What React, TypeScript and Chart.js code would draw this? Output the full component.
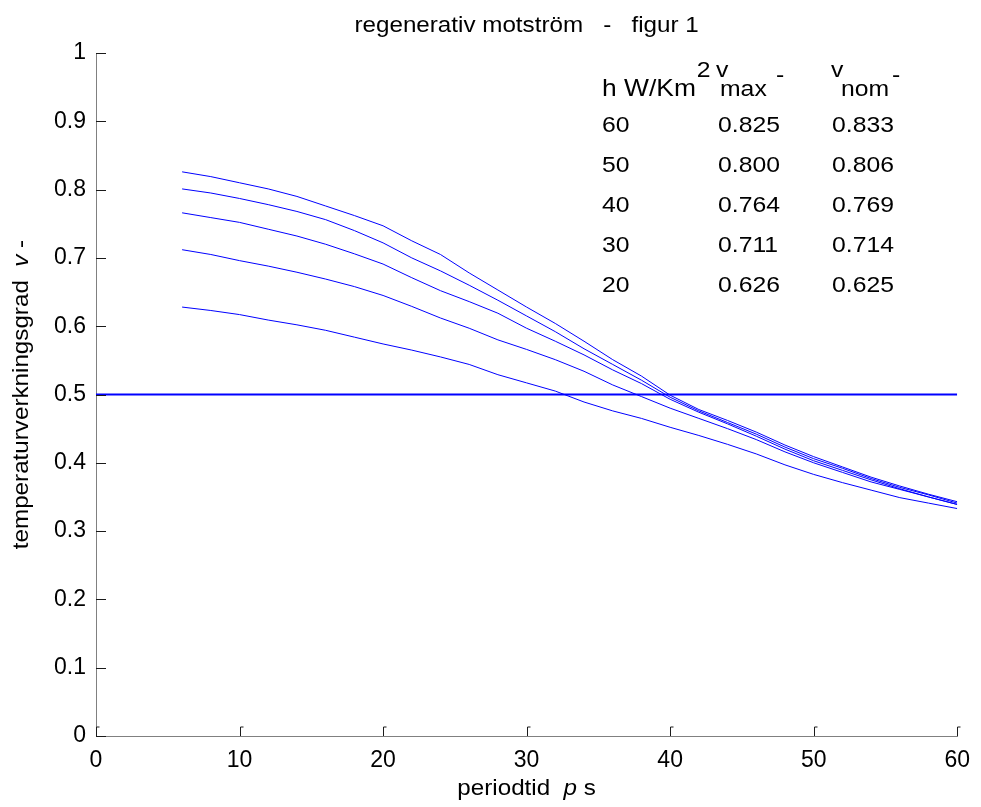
import React, { useEffect, useRef } from "react";
import { Chart, registerables } from "chart.js";

Chart.register(...registerables);

const FONT = '"Liberation Sans", Arial, Helvetica, sans-serif';

// ---- data ----
const periodX = [6, 8, 10, 12, 14, 16, 18, 20, 22, 24, 26, 28, 30, 32, 34, 36, 38, 40, 42, 44, 46, 48, 50, 52, 54, 56, 58, 60];
const h60 = [0.826, 0.819, 0.810, 0.801, 0.790, 0.776, 0.762, 0.747, 0.725, 0.705, 0.678, 0.653, 0.628, 0.604, 0.578, 0.551, 0.527, 0.499, 0.478, 0.462, 0.445, 0.426, 0.409, 0.394, 0.379, 0.366, 0.354, 0.343];
const h50 = [0.801, 0.795, 0.787, 0.778, 0.768, 0.756, 0.740, 0.722, 0.700, 0.681, 0.660, 0.638, 0.615, 0.592, 0.567, 0.544, 0.521, 0.496, 0.476, 0.459, 0.442, 0.423, 0.406, 0.392, 0.377, 0.364, 0.353, 0.341];
const h40 = [0.766, 0.759, 0.752, 0.742, 0.732, 0.720, 0.706, 0.691, 0.671, 0.652, 0.636, 0.619, 0.597, 0.578, 0.558, 0.536, 0.516, 0.493, 0.474, 0.457, 0.439, 0.420, 0.403, 0.389, 0.375, 0.362, 0.350, 0.339];
const h30 = [0.712, 0.705, 0.696, 0.688, 0.679, 0.669, 0.658, 0.645, 0.629, 0.612, 0.597, 0.580, 0.566, 0.551, 0.534, 0.514, 0.497, 0.480, 0.465, 0.450, 0.434, 0.416, 0.400, 0.386, 0.372, 0.361, 0.350, 0.339];
const h20 = [0.628, 0.623, 0.617, 0.609, 0.602, 0.594, 0.584, 0.574, 0.565, 0.555, 0.544, 0.529, 0.517, 0.505, 0.489, 0.476, 0.465, 0.452, 0.440, 0.427, 0.413, 0.397, 0.383, 0.371, 0.360, 0.349, 0.341, 0.333];
const seriesList = [h60, h50, h40, h30, h20];

const refLineX = [0, 60];
const refLineY = [0.5, 0.5];

const xTicks = [0, 10, 20, 30, 40, 50, 60];
const xTickLabels = ["0", "10", "20", "30", "40", "50", "60"];
const yTicks = [0, 0.1, 0.2, 0.3, 0.4, 0.5, 0.6, 0.7, 0.8, 0.9, 1];
const yTickLabels = ["0", "0.1", "0.2", "0.3", "0.4", "0.5", "0.6", "0.7", "0.8", "0.9", "1"];

const hLabels = ["60", "50", "40", "30", "20"];
const vmaxLabels = ["0.825", "0.800", "0.764", "0.711", "0.626"];
const vnomLabels = ["0.833", "0.806", "0.769", "0.714", "0.625"];

const titleText = "regenerativ motström   -   figur 1";

// ---- text helpers ----
const SX = 1.1;
const FS = 22;

function seg(ctx: CanvasRenderingContext2D, text: string, x: number, y: number, italic = false, size = FS) {
  ctx.save();
  ctx.font = `${italic ? "italic " : ""}${size}px ${FONT}`;
  const w = ctx.measureText(text).width * SX;
  ctx.translate(x, y);
  ctx.scale(SX, 1);
  ctx.textAlign = "left";
  ctx.textBaseline = "alphabetic";
  ctx.fillStyle = "#000";
  ctx.fillText(text, 0, 0);
  ctx.restore();
  return w;
}
function measure(ctx: CanvasRenderingContext2D, text: string, italic = false, size = FS) {
  ctx.save();
  ctx.font = `${italic ? "italic " : ""}${size}px ${FONT}`;
  const w = ctx.measureText(text).width * SX;
  ctx.restore();
  return w;
}

const decorPlugin = {
  id: "decor",
  afterDraw(chart: any) {
    const ctx: CanvasRenderingContext2D = chart.ctx;
    const xs = chart.scales.x;
    const ys = chart.scales.y;
    const area = chart.chartArea;

    // inward tick marks
    ctx.save();
    ctx.strokeStyle = "#1a1a1a";
    ctx.lineWidth = 1;
    ctx.beginPath();
    xTicks.forEach((v) => {
      const px = Math.round(xs.getPixelForValue(v)) + 0.5;
      ctx.moveTo(px, area.bottom);
      ctx.lineTo(px, area.bottom - 9);
      ctx.lineTo(px + 3, area.bottom - 9);
    });
    yTicks.forEach((v) => {
      const py = Math.round(ys.getPixelForValue(v)) + 0.5;
      ctx.moveTo(area.left, py);
      ctx.lineTo(area.left + 10, py);
    });
    ctx.stroke();
    ctx.restore();

    // title
    const tw = measure(ctx, titleText);
    const tcx = (area.left + area.right) / 2;
    seg(ctx, titleText, tcx - tw / 2, 32);

    // x axis title
    {
      const parts: [string, boolean][] = [["periodtid  ", false], ["p", true], [" s", false]];
      const total = parts.reduce((s, p) => s + measure(ctx, p[0], p[1]), 0);
      let x = tcx - total / 2;
      parts.forEach((p) => {
        x += seg(ctx, p[0], x, 795, p[1]);
      });
    }

    // y axis title (rotated)
    {
      const parts: [string, boolean][] = [["temperaturverkningsgrad  ", false], ["v", true], [" -", false]];
      const total = parts.reduce((s, p) => s + measure(ctx, p[0], p[1]), 0);
      ctx.save();
      ctx.translate(28, (area.top + area.bottom) / 2);
      ctx.rotate(-Math.PI / 2);
      let x = -total / 2;
      parts.forEach((p) => {
        x += seg(ctx, p[0], x, 0, p[1]);
      });
      ctx.restore();
    }

    // table
    const TS = 22.5;
    const c1 = 602;
    const c2 = 718;
    const c3 = 832;
    const hb = 96;
    const raised = 77;
    let x = c1;
    x += seg(ctx, "h W/Km", x, hb, false, 24);
    seg(ctx, "2", x + 1, raised, false, TS);
    seg(ctx, "v", 716, raised, false, TS);
    seg(ctx, "max", 720, hb, false, TS);
    seg(ctx, "-", 776, 82, false, TS);
    seg(ctx, "v", 831, raised, false, TS);
    seg(ctx, "nom", 841, hb, false, TS);
    seg(ctx, "-", 892, 82, false, TS);

    const rowBase = [132, 172, 212, 252, 292];
    hLabels.forEach((lab, i) => {
      seg(ctx, lab, c1, rowBase[i], false, TS);
      seg(ctx, vmaxLabels[i], c2, rowBase[i], false, TS);
      seg(ctx, vnomLabels[i], c3, rowBase[i], false, TS);
    });
  },
};

export default function App() {
  const ref = useRef<HTMLCanvasElement | null>(null);

  useEffect(() => {
    if (!ref.current) return;
    const datasets: any[] = seriesList.map((s) => ({
      data: periodX.map((x, i) => ({ x, y: s[i] })),
      borderColor: "#0000ff",
      borderWidth: 1,
      pointRadius: 0,
      tension: 0,
      fill: false,
    }));
    datasets.push({
      data: refLineX.map((x, i) => ({ x, y: refLineY[i] })),
      borderColor: "#0000ff",
      borderWidth: 2,
      pointRadius: 0,
      tension: 0,
      fill: false,
    });

    const chart = new Chart(ref.current, {
      type: "line",
      data: { datasets },
      options: {
        animation: false,
        responsive: false,
        devicePixelRatio: 1,
        layout: { padding: { top: 53, right: 19, left: 0, bottom: 0 } },
        plugins: {
          legend: { display: false },
          tooltip: { enabled: false },
          title: { display: false },
        },
        scales: {
          x: {
            type: "linear",
            min: 0,
            max: 60,
            afterFit: (s: any) => {
              s.height = 71;
            },
            afterBuildTicks: (s: any) => {
              s.ticks = xTicks.map((v) => ({ value: v }));
            },
            grid: { display: false, drawTicks: false },
            border: { display: true, color: "#808080", width: 1 },
            ticks: {
              padding: 11,
              color: "#000",
              font: { family: FONT, size: 23 },
              maxRotation: 0,
              autoSkip: false,
              callback: (_v: any, i: number) => xTickLabels[i],
            },
          },
          y: {
            type: "linear",
            min: 0,
            max: 1,
            afterFit: (s: any) => {
              s.width = 96;
            },
            afterBuildTicks: (s: any) => {
              s.ticks = yTicks.map((v) => ({ value: v }));
            },
            grid: { display: false, drawTicks: false },
            border: { display: true, color: "#808080", width: 1 },
            ticks: {
              padding: 10,
              color: "#000",
              font: { family: FONT, size: 23 },
              autoSkip: false,
              callback: (_v: any, i: number) => yTickLabels[i],
            },
          },
        },
      },
      plugins: [decorPlugin],
    } as any);
    return () => chart.destroy();
  }, []);

  return (
    <div style={{ position: "absolute", left: 0, top: 0, width: 981, height: 807, background: "#fff" }}>
      <canvas ref={ref} width={981} height={807} style={{ display: "block", width: 981, height: 807 }} />
    </div>
  );
}
